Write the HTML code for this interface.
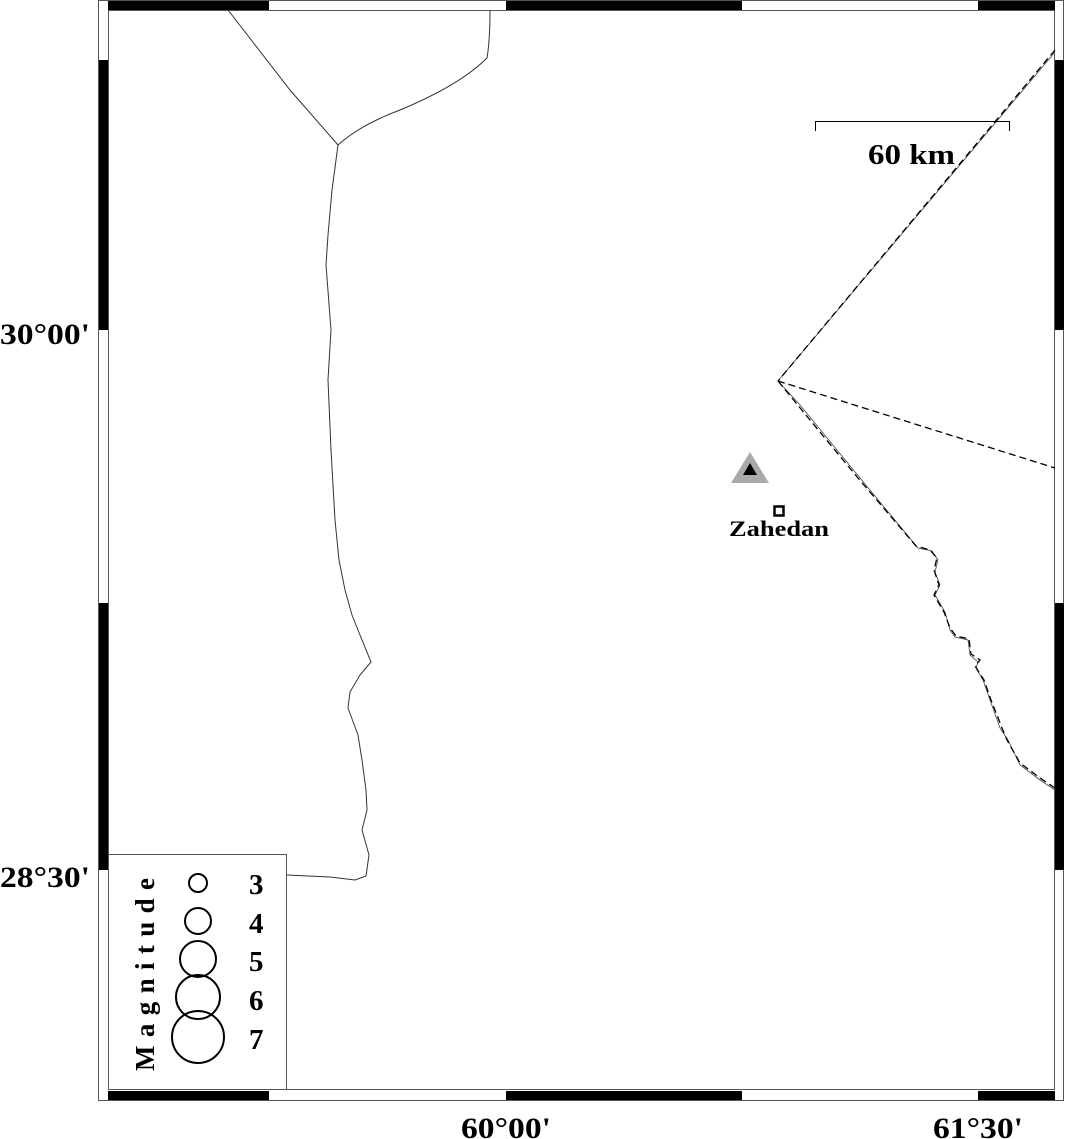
<!DOCTYPE html>
<html><head><style>
html,body{margin:0;padding:0;background:#fff;}
svg{display:block;}
text{font-family:"Liberation Serif",serif;font-weight:bold;fill:#000;}
</style></head><body>
<svg width="1066" height="1139" viewBox="0 0 1066 1139" xmlns="http://www.w3.org/2000/svg">
<rect x="0" y="0" width="1066" height="1139" fill="#fff"/>
<!-- frame -->
<rect x="98.5" y="0.5" width="965" height="1100" fill="none" stroke="#555" stroke-width="1"/>
<rect x="108.5" y="10.5" width="946" height="1079" fill="none" stroke="#555" stroke-width="1"/>
<g fill="#000">
<rect x="108" y="1" width="161" height="9"/>
<rect x="506" y="1" width="236" height="9"/>
<rect x="978" y="1" width="77" height="9"/>
<rect x="108" y="1091" width="161" height="9"/>
<rect x="506" y="1091" width="236" height="9"/>
<rect x="978" y="1091" width="77" height="9"/>
<rect x="99" y="60" width="9" height="270"/>
<rect x="99" y="603" width="9" height="267"/>
<rect x="1055" y="60" width="9" height="270"/>
<rect x="1055" y="603" width="9" height="267"/>
</g>
<!-- left border -->
<g fill="none" stroke="#333" stroke-width="1">
<path d="M228,10 L290,90 L338,145 Q360,125 400,110 Q460,85 487,58 Q490,40 490,10"/>
<path d="M338,145 L332,190 L328,235 L326,265 L331,330 L328,380 L331,450 L335,520 L339,560 L345,590 L352,615 L360,635 L371,662 L360,675 L350,692 L348,708 L358,735 L362,760 L366,790 L367,810 L362,830 L369,855 L366,876 L355,880 L330,877 L287,875"/>
</g>
<!-- right border -->
<g fill="none" stroke="#444" stroke-width="0.8">
<path d="M1055,52 L778,381 L800,405 L860,478 L918,548 L932,551 L938,560 L935,572 L940,585 L935,595 L945,612 L950,630 L955,637 L968,640 L970,655 L978,662 L976,668 L983,680 L990,700 L1000,728 L1008,740 L1020,765 L1040,780 L1055,790"/>
</g>
<g fill="none" stroke="#000" stroke-width="1.3" stroke-dasharray="7,4">
<path d="M1055,50 L778,381"/>
<path d="M778,381 L1055,468"/>
<path d="M778,381 L810,420 L858,478 L916,546 L930,550 L937,558 L934,570 L939,585 L934,595 L944,612 L950,628 L956,636 L969,639 L971,654 L980,660 L975,666 L984,680 L991,700 L1002,728 L1007,740 L1020,763 L1040,778 L1055,788"/>
</g>
<!-- scale bar -->
<path d="M815.5,131 L815.5,121.5 L1009.5,121.5 L1009.5,131" fill="none" stroke="#000" stroke-width="1"/>
<text x="868" y="164" font-size="29" textLength="87" lengthAdjust="spacingAndGlyphs">60 km</text>
<!-- volcano & city -->
<polygon points="750,452 731,483 769,483" fill="#aaa"/>
<polygon points="750,463 743,475 757,475" fill="#000"/>
<rect x="774.5" y="506.5" width="9" height="9" fill="#fff" stroke="#000" stroke-width="2.5"/>
<text x="729" y="536" font-size="22" textLength="100" lengthAdjust="spacingAndGlyphs">Zahedan</text>
<!-- axis labels -->
<text x="0" y="344" font-size="30" textLength="90" lengthAdjust="spacingAndGlyphs">30°00'</text>
<text x="0" y="887" font-size="30" textLength="90" lengthAdjust="spacingAndGlyphs">28°30'</text>
<text x="461" y="1138" font-size="30" textLength="90" lengthAdjust="spacingAndGlyphs">60°00'</text>
<text x="933" y="1138" font-size="30" textLength="90" lengthAdjust="spacingAndGlyphs">61°30'</text>
<!-- legend -->
<rect x="108.5" y="854.5" width="178" height="235" fill="#fff" stroke="#555" stroke-width="1"/>
<g fill="none" stroke="#000" stroke-width="2">
<circle cx="198" cy="883" r="9"/>
<circle cx="198" cy="921" r="13"/>
<circle cx="198" cy="959" r="18"/>
<circle cx="198" cy="997" r="22"/>
<circle cx="198" cy="1037" r="26"/>
</g>
<g font-size="29">
<text x="249" y="894">3</text>
<text x="249" y="933">4</text>
<text x="249" y="971">5</text>
<text x="249" y="1010">6</text>
<text x="249" y="1049">7</text>
</g>
<text transform="translate(154,1071) rotate(-90)" font-size="27" textLength="193" lengthAdjust="spacing">Magnitude</text>
</svg>
</body></html>
